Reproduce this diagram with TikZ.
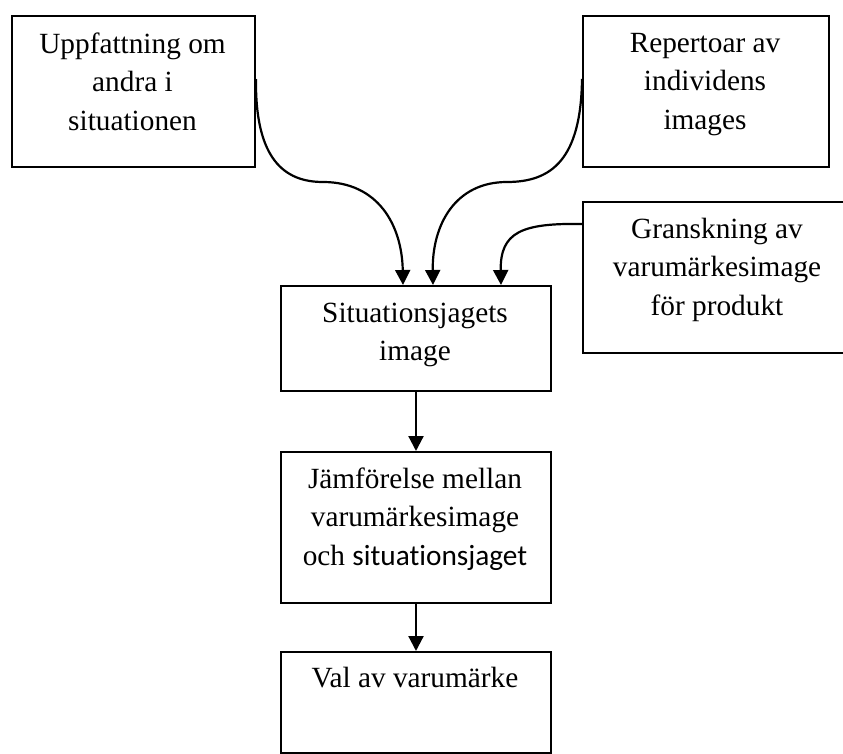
\documentclass[tikz,border=0pt]{standalone}
\usepackage{fontspec}
\setmainfont{Liberation Serif}
\newfontfamily\calibrifont[Ligatures=NoCommon]{Carlito}
\usetikzlibrary{arrows.meta}
\begin{document}
\begin{tikzpicture}[x=1pt,y=-1pt,
  box/.style={draw, line width=2pt, inner sep=0pt, anchor=north west},
  lbl/.style={align=center, anchor=north, inner sep=0pt,
              font=\fontsize{29.3}{38.5}\selectfont},
  flow/.style={line width=2.2pt, -{Triangle[width=15pt,length=15pt]}}]
\useasboundingbox (0,0) rectangle (843,754);

% boxes
\node[box, minimum width=243pt, minimum height=151pt] (a) at (11,15) {};
\node[box, minimum width=246pt, minimum height=151pt] (b) at (582,15) {};
\node[box, minimum width=270pt, minimum height=151pt] (c) at (582,201) {};
\node[box, minimum width=270pt, minimum height=105pt] (d) at (280,285) {};
\node[box, minimum width=270pt, minimum height=151pt] (e) at (280,451) {};
\node[box, minimum width=270pt, minimum height=101pt] (f) at (280,651) {};

% texts
\node[lbl] (at) at (132.5,26) {\strut Uppfattning om\\andra i\\situationen};
\node[lbl] (bt) at (705,25) {\strut Repertoar av\\individens\\images};
\node[lbl] (ct) at (717,211) {\strut Granskning av\\varumärkesimage\\för produkt};
\node[lbl] (dt) at (415,295) {\strut Situationsjagets\\image};
\node[lbl] (et) at (415,461) {\strut Jämförelse mellan\\varumärkesimage\\och {\calibrifont situationsjaget}};
\node[lbl] (ft) at (415,660) {\strut Val av varumärke};

% connectors
\draw[flow] ([yshift=12.5pt]a.east) .. controls (255,160) and (285,182) .. (323,182)
  .. controls (378,182) and (402,225) .. ([xshift=-13pt]d.north);
\draw[flow] ([yshift=12.5pt]b.west) .. controls (581,160) and (551,182) .. (507,182)
  .. controls (455,182) and (432,225) .. ([xshift=17pt]d.north);
\draw[flow] ([yshift=53.5pt]c.west) .. controls (522,223) and (500,232) .. ([xshift=85pt]d.north);
\draw[flow] (d) -- (e);
\draw[flow] (e) -- (f);
\end{tikzpicture}
\end{document}
